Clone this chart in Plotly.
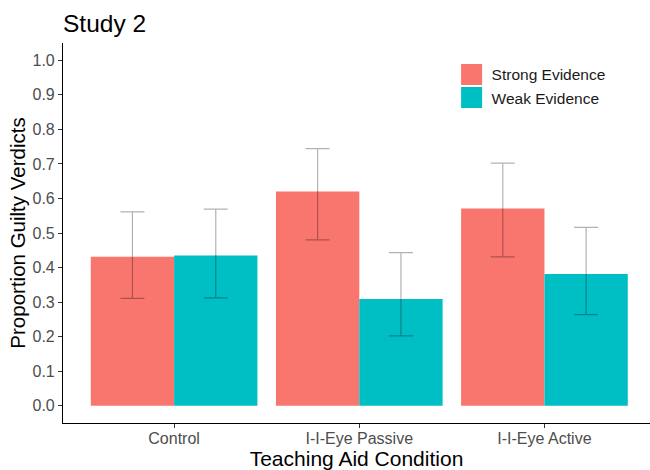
import plotly.graph_objects as go

# ----------------------------------------------------------
# Data
# ----------------------------------------------------------
conditions = ["Control", "I-I-Eye Passive", "I-I-Eye Active"]

strong_mean = [0.431, 0.620, 0.571]
strong_low = [0.311, 0.480, 0.431]
strong_high = [0.561, 0.744, 0.702]

weak_mean = [0.435, 0.309, 0.381]
weak_low = [0.312, 0.202, 0.264]
weak_high = [0.569, 0.443, 0.516]

series = [
    ("Strong Evidence", strong_mean, strong_low, strong_high, "#F8766D"),
    ("Weak Evidence", weak_mean, weak_low, weak_high, "#00BFC4"),
]

FONT = "Liberation Sans, Arial, sans-serif"

fig = go.Figure()

for name, mean, low, high, color in series:
    fig.add_trace(go.Bar(
        x=conditions,
        y=mean,
        name=name,
        marker=dict(color=color, line=dict(width=0)),
        showlegend=False,
        error_y=dict(
            type="data",
            symmetric=False,
            array=[h - m for h, m in zip(high, mean)],
            arrayminus=[m - l for m, l in zip(mean, low)],
            color="rgba(0,0,0,0.3)",
            thickness=1.2,
            width=12,
        ),
    ))

# legend entries with larger square keys
for name, mean, low, high, color in series:
    fig.add_trace(go.Scatter(
        x=[None],
        y=[None],
        mode="markers",
        name=name,
        marker=dict(symbol="square", size=16, color=color,
                    line=dict(color=color, width=5)),
        showlegend=True,
    ))

fig.update_layout(
    width=650,
    height=470,
    barmode="group",
    bargap=0.1,
    bargroupgap=0,
    paper_bgcolor="white",
    plot_bgcolor="white",
    font=dict(family=FONT, color="#000000"),
    margin=dict(l=63, r=0, t=43, b=47, autoexpand=False),
    title=dict(
        text="Study 2",
        font=dict(size=24.5, color="#000000", family=FONT),
        x=0, xref="paper", xanchor="left",
        y=1 - 23 / 470, yref="container", yanchor="middle",
    ),
    legend=dict(
        x=0.662, y=0.961, xanchor="left", yanchor="top",
        font=dict(size=15.5, color="#1A1A1A", family=FONT),
        bgcolor="rgba(0,0,0,0)",
        tracegroupgap=0,
    ),
    xaxis=dict(
        range=[-0.6, 2.57],
        automargin=False,
        showline=True, linecolor="#000000", linewidth=1.1,
        showgrid=False, zeroline=False,
        ticks="outside", ticklen=4, tickcolor="#333333", tickwidth=1.1,
        ticklabelstandoff=-3,
        tickfont=dict(size=16, color="#4D4D4D", family=FONT),
        title=dict(text="Teaching Aid Condition",
                   font=dict(size=21, color="#000000", family=FONT),
                   standoff=0),
    ),
    yaxis=dict(
        range=[-0.05, 1.05],
        automargin=False,
        tickvals=[i / 10 for i in range(11)],
        tickformat=".1f",
        showline=True, linecolor="#000000", linewidth=1.1,
        showgrid=False, zeroline=False,
        ticks="outside", ticklen=4, tickcolor="#333333", tickwidth=1.1,
        tickfont=dict(size=16, color="#4D4D4D", family=FONT),
        title=dict(text="Proportion Guilty Verdicts",
                   font=dict(size=20.5, color="#000000", family=FONT),
                   standoff=1),
    ),
)

# drop the default page margin so the figure sits at the window corner
fig.write_html(
    "out.html",
    config={"displayModeBar": False},
    post_script="document.body.style.margin='0';",
)
